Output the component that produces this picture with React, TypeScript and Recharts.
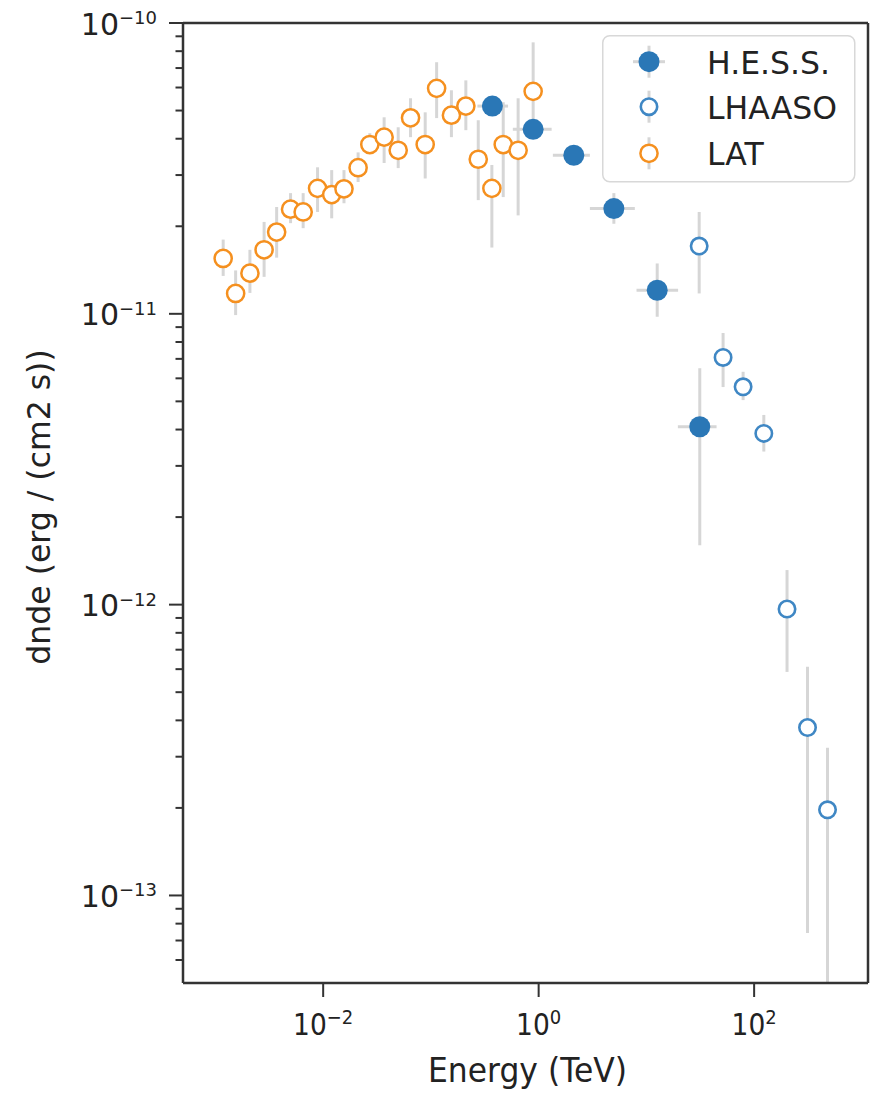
import React from 'react';
import { ScatterChart, Scatter, XAxis, YAxis, ErrorBar, Legend, Label, ReferenceLine } from 'recharts';

// ---------------- data ----------------
const latE = [1.18e-3, 1.54e-3, 2.09e-3, 2.83e-3, 3.7e-3, 4.98e-3, 6.52e-3, 8.87e-3, 1.2e-2, 1.56e-2, 2.11e-2, 2.71e-2, 3.68e-2, 4.97e-2, 6.47e-2, 8.85e-2, 0.113, 0.155, 0.211, 0.275, 0.368, 0.469, 0.645, 0.889];
const latF = [1.55e-11, 1.175e-11, 1.38e-11, 1.66e-11, 1.91e-11, 2.29e-11, 2.24e-11, 2.7e-11, 2.57e-11, 2.69e-11, 3.18e-11, 3.82e-11, 4.05e-11, 3.65e-11, 4.72e-11, 3.82e-11, 5.96e-11, 4.82e-11, 5.18e-11, 3.4e-11, 2.7e-11, 3.82e-11, 3.65e-11, 5.82e-11];
const latFLo = [1.35e-11, 9.9e-12, 1.18e-11, 1.34e-11, 1.56e-11, 2.05e-11, 1.97e-11, 2.24e-11, 2.13e-11, 2.4e-11, 2.84e-11, 3.56e-11, 3.3e-11, 3.17e-11, 4.05e-11, 2.92e-11, 4.71e-11, 4.05e-11, 4.28e-11, 2.46e-11, 1.69e-11, 2.52e-11, 2.18e-11, 4.45e-11];
const latFHi = [1.8e-11, 1.41e-11, 1.66e-11, 2.07e-11, 2.33e-11, 2.6e-11, 2.6e-11, 3.19e-11, 3.12e-11, 3.12e-11, 3.59e-11, 4.18e-11, 4.74e-11, 4.38e-11, 5.51e-11, 4.93e-11, 7.33e-11, 5.87e-11, 6.35e-11, 4.63e-11, 3.25e-11, 5.34e-11, 5.51e-11, 8.58e-11];

const hessE = [0.372, 0.889, 2.12, 4.99, 12.6, 31.3];
const hessF = [5.18e-11, 4.31e-11, 3.51e-11, 2.3e-11, 1.205e-11, 4.09e-12];
const hessELo = [0.27, 0.576, 1.355, 2.99, 8.1, 19.6];
const hessEHi = [0.52, 1.32, 2.99, 7.81, 19.7, 44.8];
const hessFLo = [4.95e-11, 4.1e-11, 3.32e-11, 2.04e-11, 9.77e-12, 1.6e-12];
const hessFHi = [5.42e-11, 4.52e-11, 3.7e-11, 2.6e-11, 1.49e-11, 6.5e-12];

const lhaasoE = [30.9, 51.5, 79.0, 123, 202, 313, 480];
const lhaasoF = [1.71e-11, 7.08e-12, 5.61e-12, 3.88e-12, 9.66e-13, 3.78e-13, 1.97e-13];
const lhaasoFLo = [1.175e-11, 5.6e-12, 5.05e-12, 3.36e-12, 5.87e-13, 7.43e-14, 5.0e-14];
const lhaasoFHi = [2.24e-11, 8.59e-12, 6.32e-12, 4.49e-12, 1.315e-12, 6.12e-13, 3.22e-13];

const seriesNames = ['H.E.S.S.', 'LHAASO', 'LAT'];

const xTicks = [1e-2, 1, 1e2];
const xTickExp = ['\u22122', '0', '2'];
const yMajor = [1e-13, 1e-12, 1e-11, 1e-10];
const yTickExp = ['\u221213', '\u221212', '\u221211', '\u221210'];
const yMinorMult = [2, 3, 4, 5, 6, 7, 8, 9];

const X_DOMAIN = [5e-4, 1.14e3];
const Y_DOMAIN = [5e-14, 1e-10];

// -------------- derived tables --------------
const hessData = hessE.map((e, i) => ({
  e,
  f: hessF[i],
  ex: [e - hessELo[i], hessEHi[i] - e],
  ey: [hessF[i] - hessFLo[i], hessFHi[i] - hessF[i]],
}));
const lhaasoData = lhaasoE.map((e, i) => ({
  e,
  f: lhaasoF[i],
  ey: [lhaasoF[i] - lhaasoFLo[i], lhaasoFHi[i] - lhaasoF[i]],
}));
const latData = latE.map((e, i) => ({
  e,
  f: latF[i],
  ey: [latF[i] - latFLo[i], latFHi[i] - latF[i]],
}));

const yMinor: number[] = [];
[1e-14, 1e-13, 1e-12, 1e-11].forEach((d) => yMinorMult.forEach((m) => {
  const v = m * d;
  if (v > Y_DOMAIN[0] * 1.001 && v < Y_DOMAIN[1]) yMinor.push(v);
}));
const yTicks = [...yMajor, ...yMinor];

// -------------- styles --------------
const FONT = '"DejaVu Sans", sans-serif';
const TXT = '#222';
const SPINE = '#333';
const BLUE = '#2a77b6';
const BLUE_OPEN = '#3f87c4';
const ORANGE = '#f5901f';
const ERR = '#d6d6d6';

const HessShape = (p: any) => <circle cx={p.cx} cy={p.cy} r={10.5} fill={BLUE} />;
const LhaasoShape = (p: any) => <circle cx={p.cx} cy={p.cy} r={8.2} fill="white" stroke={BLUE_OPEN} strokeWidth={2.6} />;
const LatShape = (p: any) => <circle cx={p.cx} cy={p.cy} r={8.6} fill="white" stroke={ORANGE} strokeWidth={2.5} />;

const XTick = (p: any) => {
  const idx = xTicks.indexOf(p.payload.value);
  if (idx < 0) return null;
  return (
    <g transform={`translate(${p.x},${p.y + 36}) scale(1,1.12)`}>
      <text x={0} y={0} textAnchor="middle" fontFamily={FONT} fontSize={26.5} fill={TXT}>
        <tspan>10</tspan>
        <tspan dy={-10} fontSize={18}>{xTickExp[idx]}</tspan>
      </text>
    </g>
  );
};

const YTick = (p: any) => {
  const v = p.payload.value;
  const idx = yMajor.indexOf(v);
  const major = idx >= 0;
  return (
    <g>
      <line x1={p.x - (major ? 14 : 7.5)} x2={p.x} y1={p.y} y2={p.y} stroke={SPINE} strokeWidth={2} />
      {major && (
        <text x={p.x - 26} y={p.y + 11.5} textAnchor="end" fontFamily={FONT} fontSize={30} fill={TXT}>
          <tspan>10</tspan>
          <tspan dy={-10.5} fontSize={18}>{yTickExp[idx]}</tspan>
        </text>
      )}
    </g>
  );
};

const XLabel = (p: any) => {
  const vb = p.viewBox || { x: 183, y: 983, width: 685, height: 112 };
  return (
    <g transform={`translate(${vb.x + vb.width / 2 + 2},${vb.y + 98.5}) scale(1,1.09)`}>
      <text x={0} y={0} textAnchor="middle" fontFamily={FONT} fontSize={31.4} fill={TXT}>Energy (TeV)</text>
    </g>
  );
};

const YLabel = (p: any) => {
  const vb = p.viewBox || { x: 0, y: 23, width: 183, height: 960 };
  const cx = vb.x + 50;
  const cy = vb.y + vb.height / 2 + 4;
  return (
    <text x={cx} y={cy} transform={`rotate(-90,${cx},${cy})`} textAnchor="middle" fontFamily={FONT} fontSize={31.5} fill={TXT}>
      dnde (erg / (cm2 s))
    </text>
  );
};

const LegendBox = () => {
  const rows = [26.7, 71.7, 118.3];
  return (
    <svg width={256} height={150} style={{ display: 'block', overflow: 'visible' }}>
      <rect x={0.75} y={0.75} width={252} height={146} rx={7} fill="white" fillOpacity={0.85} stroke="#d8d8d8" strokeWidth={1.5} />
      <line x1={47} x2={47} y1={rows[0] - 16} y2={rows[0] + 16} stroke={ERR} strokeWidth={3} />
      <line x1={31} x2={63} y1={rows[0]} y2={rows[0]} stroke={ERR} strokeWidth={3} />
      <circle cx={47} cy={rows[0]} r={10.5} fill={BLUE} />
      <line x1={47} x2={47} y1={rows[1] - 16} y2={rows[1] + 16} stroke={ERR} strokeWidth={3} />
      <circle cx={47} cy={rows[1]} r={8.2} fill="white" stroke={BLUE_OPEN} strokeWidth={2.6} />
      <line x1={47} x2={47} y1={rows[2] - 16} y2={rows[2] + 16} stroke={ERR} strokeWidth={3} />
      <circle cx={47} cy={rows[2]} r={8.6} fill="white" stroke={ORANGE} strokeWidth={2.5} />
      {seriesNames.map((n, i) => (
        <text key={n} x={105} y={rows[i] + 12} fontFamily={FONT} fontSize={31.5} fill={TXT}>{n}</text>
      ))}
    </svg>
  );
};

export default function App() {
  return (
    <div style={{ position: 'absolute', left: 0, top: 0, width: 871, height: 1095, background: 'white' }}>
      <ScatterChart width={871} height={1095} margin={{ top: 23, right: 3, bottom: 0, left: 0 }}>
        <XAxis
          dataKey="e"
          type="number"
          scale="log"
          domain={X_DOMAIN}
          allowDataOverflow
          ticks={xTicks}
          interval={0}
          tick={<XTick />}
          tickSize={14}
          tickLine={{ stroke: SPINE, strokeWidth: 2 }}
          axisLine={{ stroke: SPINE, strokeWidth: 2.5 }}
          height={112}
        >
          <Label content={XLabel} />
        </XAxis>
        <YAxis
          dataKey="f"
          type="number"
          scale="log"
          domain={Y_DOMAIN}
          allowDataOverflow
          ticks={yTicks}
          interval={0}
          tick={<YTick />}
          tickLine={false}
          tickSize={0}
          tickMargin={0}
          axisLine={{ stroke: SPINE, strokeWidth: 2.5 }}
          width={183}
        >
          <Label content={YLabel} />
        </YAxis>
        <ReferenceLine y={Y_DOMAIN[1]} stroke={SPINE} strokeWidth={2.5} ifOverflow="visible" />
        <ReferenceLine x={X_DOMAIN[1]} stroke={SPINE} strokeWidth={2.5} ifOverflow="visible" />
        <Legend
          layout="vertical"
          align="center"
          verticalAlign="middle"
          content={() => <LegendBox />}
          wrapperStyle={{ position: 'absolute', left: 602, top: 35, width: 256, height: 150 }}
        />
        <Scatter name="H.E.S.S." data={hessData} dataKey="f" shape={HessShape} isAnimationActive={false}>
          <ErrorBar dataKey="ey" direction="y" width={0} stroke={ERR} strokeWidth={3} isAnimationActive={false} />
          <ErrorBar dataKey="ex" direction="x" width={0} stroke={ERR} strokeWidth={3} isAnimationActive={false} />
        </Scatter>
        <Scatter name="LHAASO" data={lhaasoData} dataKey="f" shape={LhaasoShape} isAnimationActive={false}>
          <ErrorBar dataKey="ey" direction="y" width={0} stroke={ERR} strokeWidth={3} isAnimationActive={false} />
        </Scatter>
        <Scatter name="LAT" data={latData} dataKey="f" shape={LatShape} isAnimationActive={false}>
          <ErrorBar dataKey="ey" direction="y" width={0} stroke={ERR} strokeWidth={3} isAnimationActive={false} />
        </Scatter>
      </ScatterChart>
    </div>
  );
}
